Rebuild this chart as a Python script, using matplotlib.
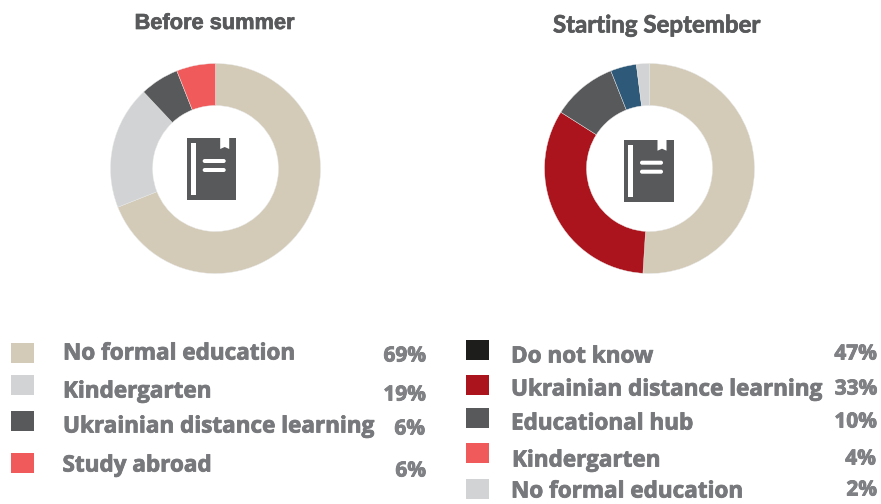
import matplotlib
matplotlib.use("Agg")
import matplotlib.pyplot as plt
import matplotlib.patheffects as pe
from matplotlib.patches import Rectangle, FancyBboxPatch, Polygon

W, H = 881, 504
BEIGE, GREY, DARK, CORAL = "#d3cbb8", "#d1d3d4", "#58595b", "#f05a5b"
RED, BLUE, BLACK = "#ab141c", "#2f5978", "#1d1d1b"

left_title = "Before summer"
left_values = [69, 19, 6, 6]
left_colors = [BEIGE, GREY, DARK, CORAL]
left_labels = ["No formal education", "Kindergarten", "Ukrainian distance learning", "Study abroad"]
left_pct = ["69%", "19%", "6%", "6%"]
left_swatches = [BEIGE, GREY, DARK, CORAL]

right_title = "Starting September"
right_values = [51, 33, 10, 4, 2]
right_colors = [BEIGE, RED, DARK, BLUE, GREY]
right_labels = ["Do not know", "Ukrainian distance learning", "Educational hub", "Kindergarten", "No formal education"]
right_pct = ["47%", "33%", "10%", "4%", "2%"]
right_swatches = [BLACK, RED, DARK, CORAL, GREY]

fig = plt.figure(figsize=(W / 100, H / 100), dpi=100, facecolor="white")

bg = fig.add_axes([0, 0, 1, 1])
bg.set_xlim(0, W)
bg.set_ylim(H, 0)
bg.axis("off")


def donut(values, colors, cx, cy, r=105, inner=63):
    ax = fig.add_axes([(cx - r) / W, 1 - (cy + r) / H, 2 * r / W, 2 * r / H])
    ax.pie(values, colors=colors, startangle=90, counterclock=False, radius=1,
           wedgeprops=dict(width=1 - inner / r, edgecolor="#e8e8e8", linewidth=0.3))
    ax.set_xlim(-1, 1)
    ax.set_ylim(-1, 1)
    ax.axis("off")
    ax.patch.set_alpha(0)


def book(x, y):
    c = DARK
    ov = fig.add_axes([0, 0, 1, 1])
    ov.set_xlim(0, W)
    ov.set_ylim(H, 0)
    ov.axis("off")
    ov.patch.set_alpha(0)
    ov.add_patch(Rectangle((x, y), 49.6, 62, fc=c, ec="none", zorder=3))
    ov.add_patch(Rectangle((x + 4.3, y + 5), 4.7, 52, fc="white", ec="none", zorder=4))
    ov.add_patch(Polygon([(x + 33.5, y), (x + 42.5, y), (x + 42.5, y + 11),
                          (x + 38, y + 9), (x + 33.5, y + 11)], fc="white", ec="none", zorder=4))
    for off in (20.5, 29.5):
        ov.add_patch(FancyBboxPatch((x + 16, y + off + 0.5), 23, 4, boxstyle="round,pad=0,rounding_size=2",
                                    fc="white", ec="none", zorder=4))


donut(left_values, left_colors, 215.5, 168.5)
donut(right_values, right_colors, 649.5, 168.5)
book(186.7, 138)
book(624, 139.7)

title_fx = [pe.withStroke(linewidth=0.5, foreground="#58595b")]
bg.text(214.5, 23.5, left_title, ha="center", va="center", fontsize=15.7, fontweight="bold",
        family="Liberation Sans", color="#58595b", path_effects=title_fx)
bg.text(656.5, 25, right_title, ha="center", va="center", fontsize=17.3, fontweight="bold",
        family="Lato", color="#58595b", path_effects=title_fx)

TXT = "#77787b"
PCT = "#808184"
heavy = [pe.withStroke(linewidth=0.6, foreground=TXT)]


def legend(labels, pcts, swatches, sx, sy, tx, ty, px, py):
    rows = zip(labels, pcts, swatches, sy, tx, ty, px, py)
    for lab, p, col, sw_y, lab_x, lab_y, p_x, p_y in rows:
        bg.add_patch(Rectangle((sx, sw_y), 23, 20, fc=col, ec="none"))
        bg.text(lab_x, lab_y, lab, ha="left", va="center", fontsize=16.2, fontweight="bold",
                family="Open Sans", color=TXT, path_effects=heavy)
        bg.text(p_x, p_y, p, ha="right", va="center", fontsize=15, fontweight="bold",
                family="Open Sans", color=PCT, path_effects=heavy)


legend(left_labels, left_pct, left_swatches, 11, [343, 375, 411, 453],
       [63, 63, 63, 62.5], [354, 392, 427, 466], [426, 426, 425, 426], [356, 395, 429, 471])
legend(right_labels, right_pct, right_swatches, 466, [340, 375, 408, 443, 479],
       [511, 511, 511, 512, 511], [357, 390, 424, 461, 492], [877, 877, 877, 876, 877],
       [354, 389, 422, 459, 490])

fig.savefig("out.png", dpi=100)
